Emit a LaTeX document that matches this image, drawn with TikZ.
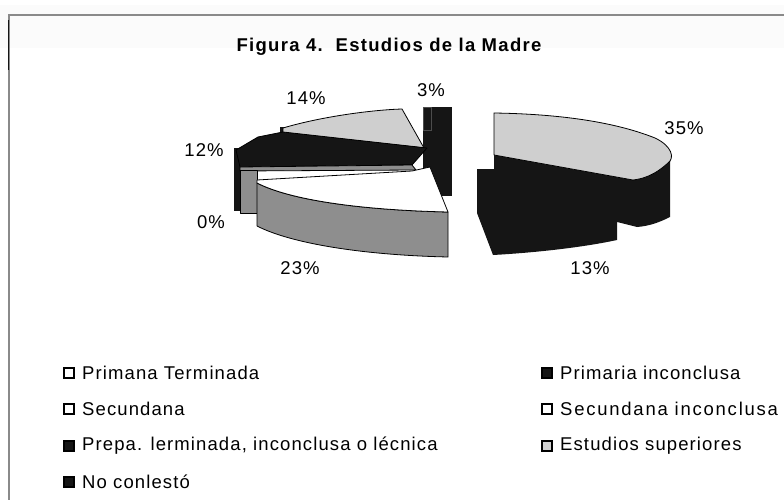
\documentclass[tikz,border=0pt]{standalone}
\usepackage{fontspec}
\setmainfont{Liberation Sans}
\newfontfamily\lgfont{Liberation Sans}[LetterSpace=6]
\newfontfamily\lgwide{Liberation Sans}[LetterSpace=9.5]
\newfontfamily\ttlfont{Liberation Sans}[LetterSpace=7]
\definecolor{lgray}{HTML}{CFCFCF}
\definecolor{mgray}{HTML}{8E8E8E}
\definecolor{blk}{HTML}{151515}
\definecolor{frame}{HTML}{8A8A8A}
\begin{document}
\begin{tikzpicture}[x=1pt,y=-1pt,
  slice/.style={draw=black,line width=0.8pt,line join=round},
  pct/.style={font=\fontsize{18.5}{22}\selectfont\lgfont,inner sep=0pt},
  lg/.style={font=\fontsize{18.5}{22}\selectfont\lgfont,anchor=west,inner sep=0pt},
  mk/.style={draw=black,line width=1.3pt,minimum size=10pt,inner sep=0pt},
  ]
\useasboundingbox (0,0) rectangle (784,500);
\fill[gray!3] (0,5) rectangle (784,48);
% frame
\draw[frame,line width=2pt] (8,15) -- (784,15);
\draw[frame,line width=1.3pt] (9,15) -- (9,500);
\draw[blk,line width=1.5pt] (8.5,20) -- (8.5,70);
% title
\node[font=\fontsize{18.5}{22}\selectfont\ttlfont\bfseries,inner sep=0pt] (title) at (389,47) {Figura 4.\ \ Estudios de la Madre};

% ---------- left pie ----------
% 3% block
\fill[blk] (423,107) rectangle (452,196);
\draw[black!70,line width=0.6pt] (423.5,107.5) rectangle (431,130);
% 14% light gray slice
\fill[blk] (280,127) -- (284,127) -- (284,136) -- (280,136) -- cycle;
\draw[slice,fill=lgray] (283,128) .. controls (320,117) and (370,110) .. (402,109) -- (424,148) -- (283,133) -- cycle;
% 12% black slice (top and side)
\fill[blk] (234,148) rectangle (241,211);
\draw[slice,fill=blk] (236,150) -- (258,137) -- (283,132) -- (427,148) -- (412,165) -- (240,167) -- cycle;
% 0% gray strip and side
\draw[slice,fill=mgray] (240,167) -- (412,165) -- (416,170) -- (240,171) -- cycle;
\draw[slice,fill=mgray] (240,170) -- (257,170) -- (257,213) -- (240,213) -- cycle;
% white slice side (gray)
\draw[slice,fill=mgray] (257,183) .. controls (290,200) and (360,210) .. (448,212) -- (448,257) .. controls (360,255) and (290,243) .. (257,226) -- cycle;
% white slice top
\draw[slice,fill=white] (257,180) -- (412,171) -- (430,167) -- (448,212) .. controls (360,210) and (290,200) .. (257,183) -- cycle;

% ---------- right pie ----------
\fill[blk] (494,155) -- (633,180) .. controls (652,175) and (665,165) .. (670,155) -- (670,217) .. controls (660,222) and (650,226) .. (637,227) -- (617,222) -- (617,240) .. controls (580,248) and (530,253) .. (493,255) -- (477,213) -- (477,169) -- (494,169) -- cycle;
\draw[slice,fill=lgray] (494,113) .. controls (560,114) and (615,122) .. (655,138) .. controls (672,146) and (675,158) .. (668,163) .. controls (660,170) and (650,178) .. (633,180) -- (494,155) -- cycle;

% percentages
\node[pct] (p14) at (306,98) {14\%};
\node[pct] (p3) at (431,90) {3\%};
\node[pct] (p12) at (204,150) {12\%};
\node[pct] (p0) at (211,222) {0\%};
\node[pct] (p23) at (300,268) {23\%};
\node[pct] (p35) at (684,128) {35\%};
\node[pct] (p13) at (590,268) {13\%};

% legend
\node[mk,fill=white] (m1) at (69,373) {};
\node[lg] (t1) at (82,373) {Primana Terminada};
\node[mk,fill=white] (m2) at (69,409) {};
\node[lg] (t2) at (82,409) {Secundana};
\node[mk,fill=blk] (m3) at (69,446) {};
\node[lg] (t3) at (82,446) {Prepa. lerminada, inconclusa o lécnica};
\node[mk,fill=blk] (m4) at (69,482) {};
\node[lg] (t4) at (82,482) {No conlestó};
\node[mk,fill=blk] (m5) at (547,373) {};
\node[lg] (t5) at (560,373) {Primaria inconclusa};
\node[mk,fill=white] (m6) at (547,409) {};
\node[lg,font=\fontsize{18.5}{22}\selectfont\lgwide] (t6) at (560,409) {Secundana inconclusa};
\node[mk,fill=lgray,line width=1.7pt] (m7) at (547,446) {};
\node[lg] (t7) at (560,446) {Estudios superiores};
\end{tikzpicture}
\end{document}
